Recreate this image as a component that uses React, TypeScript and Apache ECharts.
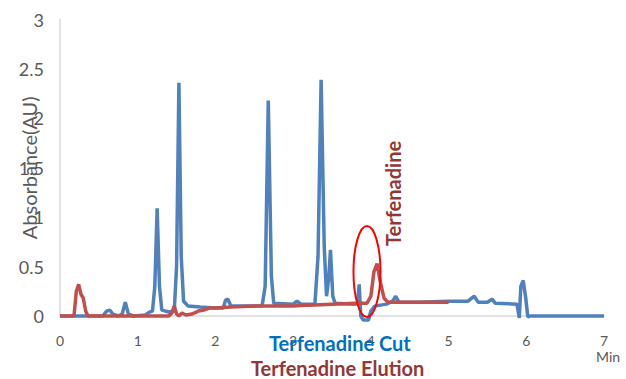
import React, { useEffect, useRef } from "react";
import * as echarts from "echarts";

const xTicks = [0, 1, 2, 3, 4, 5, 6, 7];
const yTicks = [0, 0.5, 1, 1.5, 2, 2.5, 3];

const cutTime = [0, 0.55, 0.6, 0.64, 0.68, 0.75, 0.8, 0.84, 0.88, 0.95, 1.1, 1.15, 1.19, 1.22, 1.25, 1.28, 1.31, 1.4, 1.47, 1.5, 1.53, 1.56, 1.59, 1.65, 1.8, 2.0, 2.1, 2.13, 2.16, 2.2, 2.4, 2.6, 2.64, 2.68, 2.72, 2.75, 3.0, 3.05, 3.1, 3.28, 3.32, 3.36, 3.4, 3.43, 3.46, 3.48, 3.51, 3.54, 3.8, 3.83, 3.85, 3.87, 3.9, 3.97, 4.0, 4.05, 4.2, 4.28, 4.32, 4.36, 4.6, 5.0, 5.25, 5.33, 5.38, 5.5, 5.56, 5.6, 5.88, 5.91, 5.93, 5.96, 5.99, 6.02, 6.05, 7.0];
const cutAbs = [0, 0, 0.05, 0.06, 0.02, 0, 0.02, 0.14, 0.02, 0, 0.01, 0.04, 0.05, 0.3, 1.09, 0.3, 0.06, 0.04, 0.05, 0.5, 2.36, 0.6, 0.15, 0.1, 0.09, 0.08, 0.08, 0.16, 0.17, 0.1, 0.1, 0.1, 0.3, 2.18, 0.4, 0.13, 0.12, 0.15, 0.12, 0.12, 0.6, 2.39, 0.7, 0.2, 0.4, 0.67, 0.2, 0.13, 0.12, 0.13, 0.32, 0.0, -0.04, -0.04, 0.05, 0.1, 0.12, 0.15, 0.2, 0.14, 0.14, 0.15, 0.15, 0.2, 0.14, 0.14, 0.17, 0.13, 0.12, -0.02, 0.3, 0.36, 0.2, -0.01, 0, 0];

const elutionTime = [0, 0.18, 0.21, 0.24, 0.27, 0.3, 0.33, 0.36, 1.4, 1.44, 1.47, 1.5, 1.53, 1.57, 1.62, 1.7, 1.78, 1.85, 1.92, 2.0, 2.2, 2.5, 2.8, 3.0, 3.2, 3.5, 3.8, 3.95, 4.0, 4.04, 4.08, 4.12, 4.17, 4.22, 4.6, 5.0];
const elutionAbs = [0, 0, 0.25, 0.32, 0.22, 0.18, 0.05, 0, 0, 0.03, 0.1, 0.02, 0, 0.03, 0.01, 0.02, 0.05, 0.06, 0.08, 0.08, 0.09, 0.1, 0.1, 0.1, 0.11, 0.12, 0.13, 0.13, 0.2, 0.45, 0.53, 0.35, 0.18, 0.14, 0.14, 0.14];

const seriesNames = ["Terfenadine Cut", "Terfenadine Elution"];
const annotationLabel = "Terfenadine";
const annotationPoint = [4.28, 1.24];
const ellipseCenter = [3.95, 0.45];

export default function App() {
  const ref = useRef<HTMLDivElement>(null);
  useEffect(() => {
    if (!ref.current) return;
    const chart = echarts.init(ref.current, undefined, { renderer: "svg" });
    const font = "Lato, 'Open Sans', sans-serif";
    const minText = {
      type: "text",
      left: 596,
      top: 349,
      style: { text: "Min", fill: "#595959", fontSize: 14, fontFamily: font },
    };
    chart.setOption({
      animation: false,
      grid: { left: 60, right: 22, top: 19.5, bottom: 63, containLabel: false, outerBoundsMode: "none" },
      legend: [
        {
          data: [{ name: seriesNames[0], textStyle: { color: "#0070C0" } }],
          top: 333,
          left: 264,
          icon: "none",
          itemWidth: 0,
          padding: 0,
          textStyle: { fontWeight: "bold", fontSize: 20, fontFamily: font },
        },
        {
          data: [{ name: seriesNames[1], textStyle: { color: "#943634" } }],
          top: 358,
          left: 246,
          icon: "none",
          itemWidth: 0,
          padding: 0,
          textStyle: { fontWeight: "bold", fontSize: 20, fontFamily: font },
        },
      ],
      xAxis: {
        type: "value",
        min: xTicks[0],
        max: xTicks[xTicks.length - 1],
        interval: 1,
        axisLine: { show: true, lineStyle: { color: "#D9D9D9", width: 1.5 } },
        axisTick: { show: false },
        splitLine: { show: false },
        axisLabel: { color: "#595959", fontSize: 14, fontFamily: font, margin: 17 },
      },
      yAxis: {
        type: "value",
        min: yTicks[0],
        max: yTicks[yTicks.length - 1],
        interval: 0.5,
        name: "Absorbance(AU)",
        nameLocation: "middle",
        nameGap: 21,
        nameMoveOverlap: false,
        nameTextStyle: { color: "#595959", fontSize: 20, fontFamily: font },
        axisLine: { show: true, lineStyle: { color: "#D9D9D9", width: 1.5 } },
        axisTick: { show: false },
        splitLine: { show: false },
        axisLabel: { color: "#595959", fontSize: 18, fontFamily: font, margin: 16 },
      },
      graphic: [minText],
      series: [
        {
          name: seriesNames[0],
          type: "line",
          data: cutTime.map((t, i) => [t, cutAbs[i]]),
          showSymbol: false,
          clip: false,
          lineStyle: { color: "#4F81BD", width: 3.5 },
          itemStyle: { color: "#4F81BD" },
          z: 2,
        },
        {
          name: seriesNames[1],
          type: "line",
          data: elutionTime.map((t, i) => [t, elutionAbs[i]]),
          showSymbol: false,
          clip: false,
          lineStyle: { color: "#C0504D", width: 3.5 },
          itemStyle: { color: "#C0504D" },
          z: 3,
        },
      ],
    });
    const c = chart.convertToPixel({ gridIndex: 0 }, ellipseCenter) as number[];
    const a = chart.convertToPixel({ gridIndex: 0 }, annotationPoint) as number[];
    chart.setOption({
      graphic: [
        minText,
        {
          type: "ellipse",
          shape: { cx: c[0], cy: c[1], rx: 13.5, ry: 45.5 },
          style: { fill: "none", stroke: "#FF0000", lineWidth: 2 },
          z: 10,
        },
        {
          type: "text",
          x: a[0],
          y: a[1],
          rotation: Math.PI / 2,
          style: {
            text: annotationLabel,
            fill: "#943634",
            fontSize: 20,
            fontWeight: "bold",
            fontFamily: font,
            align: "center",
            verticalAlign: "middle",
          },
          z: 10,
        },
      ],
    });
    return () => chart.dispose();
  }, []);
  return <div ref={ref} style={{ width: 626, height: 379, position: "absolute", left: 0, top: 0 }} />;
}
